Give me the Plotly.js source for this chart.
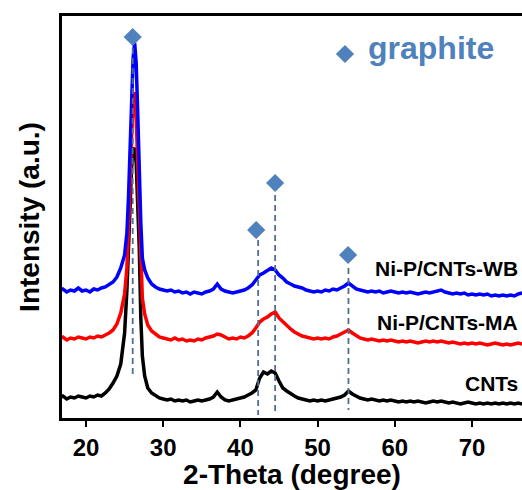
<!DOCTYPE html>
<html>
<head>
<meta charset="utf-8">
<script src="https://cdn.plot.ly/plotly-3.0.1.min.js"></script>
<style>html,body{margin:0;padding:0;background:#fff;overflow:hidden}</style>
</head>
<body>
<div id="chart" style="width:522px;height:490px"></div>
<script>
// 2-Theta (degree)
const twoTheta = [16.5,17,17.5,18,18.5,19,19.5,20,20.5,21,21.5,22,22.5,23,23.5,24,24.5,25,
  25.3,25.5,25.7,25.9,26.1,26.3,26.5,26.7,26.9,27.1,27.3,27.6,
  28,28.5,29,29.5,30,30.5,31,31.5,32,32.5,33,33.5,34,34.5,35,35.5,36,36.5,37,37.5,
  38,38.5,39,39.5,40,40.5,41,41.5,42,42.5,43,43.5,44,44.5,45,45.5,46,46.5,47,47.5,
  48,48.5,49,49.5,50,50.5,51,51.5,52,52.5,53,53.5,54,54.5,55,55.5,56,56.5,57,57.5,
  58,58.5,59,59.5,60,60.5,61,61.5,62,62.5,63,63.5,64,64.5,65,65.5,66,66.5,67,67.5,
  68,68.5,69,69.5,70,70.5,71,71.5,72,72.5,73,73.5,74,74.5,75,75.5,76,76.5];

// Intensity (a.u., stacked with offsets as in the figure)
const intensityWB = [127,129,126,128,127,130,127,128,126,129,128,130,131,134,136,141,150,163,
  185,220,270,320,360,375,355,305,245,195,160,148,
  140,134,131,129,128,127,128,126,127,125,126,124,126,125,124,126,127,129,134,129,
  127,126,125,126,127,128,130,133,138,143,145,148,150,148,143,140,136,134,132,131,
  130,128,127,126,127,126,128,127,129,128,130,132,135,132,129,128,127,126,127,126,
  127,125,126,127,126,125,126,125,126,125,124,125,126,125,126,127,128,126,125,124,
  125,124,125,123,124,123,124,123,124,122,123,122,123,122,123,122,124,125];

const intensityMA = [79,81,78,80,79,81,80,79,81,80,82,81,83,85,88,94,105,124,
  150,185,230,280,315,326,300,255,200,145,120,104,
  93,87,84,81,80,79,78,80,78,79,77,78,77,79,78,80,81,82,84,83,
  81,79,80,79,81,80,82,85,90,96,99,101,104,106,100,96,92,89,86,84,
  82,81,80,79,80,79,80,79,81,82,84,86,88,85,82,80,79,78,79,78,
  77,78,77,78,77,76,77,76,77,76,75,76,77,76,77,76,77,76,75,76,
  75,74,75,74,75,74,75,74,73,74,75,74,73,74,73,74,75,74];

const intensityCNTs = [20,22,19,21,20,22,21,20,22,21,23,22,25,29,35,42,54,85,
  128,170,215,250,268,270,255,220,170,100,62,42,
  30,25,22,20,19,18,19,17,18,17,18,16,17,18,17,18,19,21,26,21,
  18,17,18,19,20,21,23,25,28,40,46,44,47,45,37,30,27,24,22,20,
  19,18,17,18,17,18,17,18,19,20,21,23,27,24,22,20,19,18,19,18,
  17,18,17,18,17,16,17,16,17,16,17,16,15,16,17,16,17,16,15,16,
  15,14,15,16,15,14,15,14,15,14,15,14,15,14,15,14,15,14];

// graphite reference peaks: marker position and dashed guide extent
const graphitePos   = [26.05, 42.3, 44.5, 54.0];
const markerPos     = [26.05, 42.05, 44.5, 53.95];
const markerHeight  = [381, 188, 235, 163];
const guideTop      = [370, 178, 223, 150];
const guideBottom   = [42, 3, 3, 8];

const seriesNames = ['CNTs', 'Ni-P/CNTs-MA', 'Ni-P/CNTs-WB'];
const seriesColors = ['#000000', '#ff0000', '#0000ff'];
const labelY = [35, 96, 150];

const legendMarker = {x: [53.55], y: [364]};
const legendText = 'graphite';

const FONT = 'Liberation Sans, Arial, sans-serif';

const traces = [];
[intensityCNTs, intensityMA, intensityWB].forEach((ys, i) => {
  traces.push({
    type: 'scatter', mode: 'lines', name: seriesNames[i],
    x: twoTheta, y: ys,
    line: {color: seriesColors[i], width: 3.5},
    hoverinfo: 'skip'
  });
});
graphitePos.forEach((xp, i) => {
  traces.push({
    type: 'scatter', mode: 'lines',
    x: [xp, xp], y: [guideTop[i], guideBottom[i]],
    line: {color: '#4f6f95', width: 1.8, dash: '6px,4px'},
    hoverinfo: 'skip'
  });
});
traces.push({
  type: 'scatter', mode: 'markers',
  x: markerPos, y: markerHeight,
  marker: {symbol: 'diamond', size: 14, color: '#4f81bd'},
  hoverinfo: 'skip'
});
traces.push({
  type: 'scatter', mode: 'markers',
  x: legendMarker.x, y: legendMarker.y,
  marker: {symbol: 'diamond', size: 14, color: '#4f81bd'},
  hoverinfo: 'skip'
});

const annotations = seriesNames.map((n, i) => ({
  x: 76.25, y: labelY[i], xref: 'x', yref: 'y',
  text: n, showarrow: false, xanchor: 'right', yanchor: 'middle',
  font: {family: FONT, size: 21, color: '#000', weight: 'bold'}
}));
annotations.push({
  x: 56.3, y: 370, xref: 'x', yref: 'y', text: legendText, showarrow: false,
  xanchor: 'left', yanchor: 'middle',
  font: {family: FONT, size: 32, color: '#4f81bd', weight: 'bold'}
});

const layout = {
  width: 522, height: 490,
  margin: {l: 62, r: 0, t: 16, b: 72},
  paper_bgcolor: '#fff', plot_bgcolor: '#fff',
  showlegend: false,
  xaxis: {
    range: [16.89, 76.48],
    tickvals: [20, 30, 40, 50, 60, 70],
    ticktext: ['20', '30', '40', '50', '60', '70'],
    ticks: 'outside', ticklen: 6, tickwidth: 2, tickcolor: '#000',
    showline: true, linewidth: 3, linecolor: '#000', mirror: true,
    showgrid: false, zeroline: false, automargin: false,
    tickfont: {family: FONT, size: 24, color: '#000', weight: 'bold'},
    title: {text: '2-Theta (degree)', standoff: 4,
      font: {family: FONT, size: 28, color: '#000', weight: 'bold'}}
  },
  yaxis: {
    range: [0, 402],
    showticklabels: false, ticks: '',
    showline: true, linewidth: 3, linecolor: '#000', mirror: false,
    showgrid: false, zeroline: false, automargin: false,
    title: {text: 'Intensity (a.u.)', standoff: 12,
      font: {family: FONT, size: 28, color: '#000', weight: 'bold'}}
  },
  annotations: annotations
};

Plotly.newPlot('chart', traces, layout, {displayModeBar: false, staticPlot: true});
</script>
</body>
</html>
